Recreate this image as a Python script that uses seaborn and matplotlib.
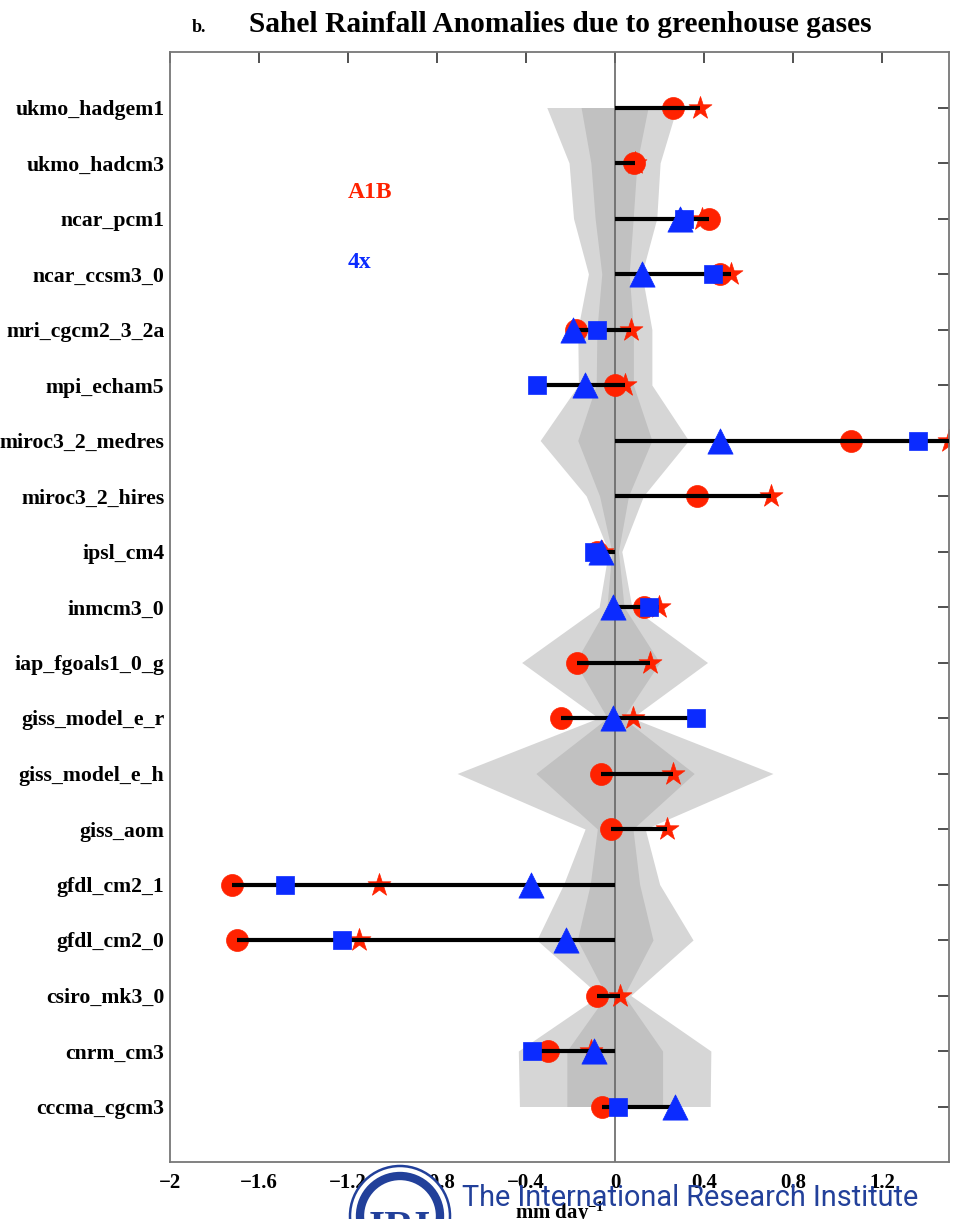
import numpy as np
import pandas as pd
import matplotlib
matplotlib.use("Agg")
import matplotlib.pyplot as plt
import seaborn as sns
from matplotlib.patches import Ellipse

# Model names, top to bottom
models = [
    "ukmo_hadgem1", "ukmo_hadcm3", "ncar_pcm1", "ncar_ccsm3_0", "mri_cgcm2_3_2a",
    "mpi_echam5", "miroc3_2_medres", "miroc3_2_hires", "ipsl_cm4", "inmcm3_0",
    "iap_fgoals1_0_g", "giss_model_e_r", "giss_model_e_h", "giss_aom",
    "gfdl_cm2_1", "gfdl_cm2_0", "csiro_mk3_0", "cnrm_cm3", "cccma_cgcm3",
]

# Rainfall anomalies (mm/day); NaN where a model has no run
a1b_circles = [0.26, 0.085, 0.42, 0.47, -0.175, 0.0, 1.06, 0.37, -0.08, 0.13,
               -0.17, -0.245, -0.065, -0.02, -1.72, -1.70, -0.08, -0.30, -0.06]
a1b_stars = [0.38, 0.09, 0.39, 0.52, 0.07, 0.045, 1.50, 0.70, -0.06, 0.195,
             0.155, 0.08, 0.26, 0.235, -1.06, -1.15, 0.02, -0.11, np.nan]
x4_squares = [np.nan, np.nan, 0.31, 0.44, -0.08, -0.35, 1.36, np.nan, -0.095, 0.15,
              np.nan, 0.365, np.nan, np.nan, -1.485, -1.225, np.nan, -0.375, 0.015]
x4_triangles = [np.nan, np.nan, 0.29, 0.12, -0.19, -0.135, 0.47, np.nan, -0.065, -0.01,
                np.nan, -0.01, np.nan, np.nan, -0.38, -0.22, np.nan, -0.095, 0.27]

# Spread of internal variability (outer and inner bands)
outer_lo = [-0.307, -0.207, -0.187, -0.12, -0.168, -0.165, -0.337, -0.13, -0.03, -0.072,
            -0.42, -0.075, -0.71, -0.135, -0.232, -0.352, -0.07, -0.435, -0.43]
outer_hi = [0.277, 0.202, 0.187, 0.12, 0.165, 0.165, 0.33, 0.127, 0.03, 0.075,
            0.415, 0.075, 0.709, 0.135, 0.2, 0.35, 0.07, 0.43, 0.427]
inner_lo = [-0.153, -0.109, -0.09, -0.06, -0.082, -0.085, -0.168, -0.07, -0.015, -0.037,
            -0.18, -0.035, -0.356, -0.08, -0.112, -0.17, -0.04, -0.217, -0.217]
inner_hi = [0.148, 0.098, 0.081, 0.063, 0.082, 0.082, 0.165, 0.06, 0.015, 0.04,
            0.2, 0.035, 0.355, 0.08, 0.11, 0.17, 0.04, 0.213, 0.213]

xticks = [-2, -1.6, -1.2, -0.8, -0.4, 0, 0.4, 0.8, 1.2]
xticklabels = ["\u22122", "\u22121.6", "\u22121.2", "\u22120.8", "\u22120.4",
               "0", "0.4", "0.8", "1.2"]

RED = "#ff2200"
BLUE = "#0b2bff"

sns.set_style("white")
plt.rcParams["font.family"] = ["Liberation Serif", "DejaVu Serif"]
plt.rcParams["font.weight"] = "bold"
plt.rcParams["text.color"] = "black"
plt.rcParams["mathtext.fontset"] = "custom"
plt.rcParams["mathtext.rm"] = "Liberation Serif:bold"
plt.rcParams["mathtext.it"] = "Liberation Serif:bold"
plt.rcParams["mathtext.bf"] = "Liberation Serif:bold"

rows = np.arange(1, len(models) + 1)
df = pd.DataFrame({
    "model": models, "row": rows,
    "circle": a1b_circles, "star": a1b_stars,
    "square": x4_squares, "triangle": x4_triangles,
})

fig = plt.figure(figsize=(9.69, 12.19), dpi=100)
W, H = 969, 1219
ax = fig.add_axes([170 / W, 1 - 1162 / H, (949 - 170) / W, (1162 - 52) / H])

# variability bands
ax.fill_betweenx(rows, outer_lo, outer_hi, color="#d6d6d6", lw=0, zorder=0.5)
ax.fill_betweenx(rows, inner_lo, inner_hi, color="#c1c1c1", lw=0, zorder=0.6)
ax.axvline(0, color="#666666", lw=1.2, zorder=0.8)

# range bars from zero through all runs of each model
vals = df[["circle", "star", "square", "triangle"]].to_numpy()
lo = np.nanmin(np.column_stack([vals, np.zeros(len(df))]), axis=1)
hi = np.nanmax(np.column_stack([vals, np.zeros(len(df))]), axis=1)
ax.hlines(df["row"], lo, hi, color="black", lw=3, zorder=3)

sns.scatterplot(data=df, x="star", y="row", marker="*", s=300, color=RED,
                edgecolor=RED, linewidth=0.5, ax=ax, zorder=1.9, legend=False)
sns.scatterplot(data=df, x="circle", y="row", marker="o", s=250, color=RED,
                edgecolor=RED, linewidth=0.5, ax=ax, zorder=2, legend=False)
sns.scatterplot(data=df, x="square", y="row", marker="s", s=170, color=BLUE,
                edgecolor=BLUE, linewidth=0.5, ax=ax, zorder=4, legend=False)
sns.scatterplot(data=df, x="triangle", y="row", marker="^", s=330, color=BLUE,
                edgecolor=BLUE, linewidth=0.5, ax=ax, zorder=5, legend=False)

ax.set_xlim(-2, 1.5)
ax.set_ylim(20, 0)
ax.set_xticks(xticks)
ax.set_xticklabels(xticklabels, fontsize=15, fontweight="bold")
ax.set_yticks(rows)
ax.set_yticklabels(models, fontsize=15.7, fontweight="bold")
ax.tick_params(axis="both", direction="in", length=8, width=1.2, color="#333333",
               labelcolor="black", top=True, right=True)
ax.tick_params(axis="x", pad=8)
ax.tick_params(axis="y", pad=4)
ax.set_xlabel("")
ax.set_ylabel("")
for sp in ax.spines.values():
    sp.set_color("#777777")
    sp.set_linewidth(1.3)

# scenario key
ax.text(-1.2, 2.53, "A1B", color=RED, fontsize=17, fontweight="bold", va="center", ha="left")
ax.text(-1.2, 3.79, "4x", color=BLUE, fontsize=17, fontweight="bold", va="center", ha="left")

# titles
fig.text(192 / W, 1 - 27 / H, "b.", fontsize=13, fontweight="bold", va="center", ha="left")
fig.text(560 / W, 1 - 25 / H, "Sahel Rainfall Anomalies due to greenhouse gases",
         fontsize=21.2, fontweight="bold", va="center", ha="center")

# axis unit
fig.text(560 / W, 1 - 1213 / H, "mm day$^{-1}$", fontsize=15, fontweight="bold",
         va="center", ha="center")

# institute logo
LOGO = "#22409a"
cx, cy = 400 / W, 1 - 1216 / H
fig.patches.append(Ellipse((cx, cy), 100 / W, 100 / H, transform=fig.transFigure,
                           facecolor="white", edgecolor=LOGO, lw=1.8, zorder=10))
fig.patches.append(Ellipse((cx, cy), 80 / W, 80 / H, transform=fig.transFigure,
                           facecolor="white", edgecolor=LOGO, lw=6, zorder=11))
fig.text(cx, 1 - 1230 / H, "IRI", fontsize=30, color=LOGO, ha="center", va="center",
         family=["Liberation Serif"], fontweight="bold", zorder=12)
fig.text(462 / W, 1 - 1206 / H, "The International Research Institute", fontsize=20.8,
         color=LOGO, ha="left", va="baseline", family=["Roboto", "DejaVu Sans"],
         fontweight="normal", zorder=12)

fig.savefig("out.png", dpi=100)
